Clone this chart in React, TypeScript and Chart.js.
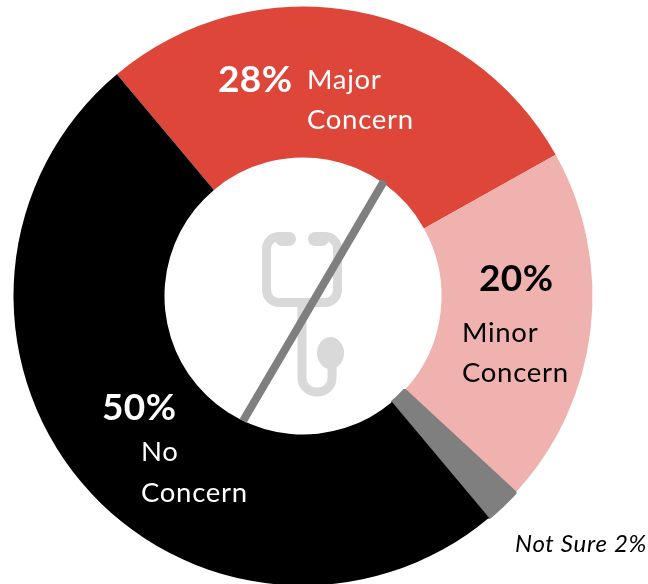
import React, { useEffect, useRef } from "react";
import { Chart, registerables } from "chart.js";

Chart.register(...registerables);

const categories = ["Major Concern", "Minor Concern", "Not Sure", "No Concern"];
const shares = [28, 20, 2, 50];
const sliceColors = ["#dd4639", "#f0b2ae", "#7f7f7f", "#000000"];
const sliceBorders = [0, 0, 3, 0];

type Lbl = { text: string; x: number; y: number; font: string; color: string; spacing: string };
const FACE = "Lato, 'Open Sans', sans-serif";
const labels: Lbl[] = [
  { text: "28%", x: 218, y: 92, font: `bold 37px ${FACE}`, color: "#ffffff", spacing: "0.4px" },
  { text: "Major", x: 307, y: 89, font: `27.5px ${FACE}`, color: "#ffffff", spacing: "0.7px" },
  { text: "Concern", x: 307, y: 129, font: `27.5px ${FACE}`, color: "#ffffff", spacing: "0.7px" },
  { text: "20%", x: 479, y: 291, font: `bold 37px ${FACE}`, color: "#000000", spacing: "0.4px" },
  { text: "Minor", x: 462, y: 342, font: `27.5px ${FACE}`, color: "#000000", spacing: "0.7px" },
  { text: "Concern", x: 462, y: 382, font: `27.5px ${FACE}`, color: "#000000", spacing: "0.7px" },
  { text: "50%", x: 102, y: 420, font: `bold 37px ${FACE}`, color: "#ffffff", spacing: "0.4px" },
  { text: "No", x: 141, y: 461, font: `27.5px ${FACE}`, color: "#ffffff", spacing: "0.7px" },
  { text: "Concern", x: 141, y: 502, font: `27.5px ${FACE}`, color: "#ffffff", spacing: "0.7px" },
  { text: "Not Sure 2%", x: 515, y: 552, font: `italic 24px ${FACE}`, color: "#000000", spacing: "0.7px" },
];

const decorations = {
  id: "decorations",
  afterDatasetsDraw(chart: any) {
    const c = chart.ctx as CanvasRenderingContext2D;
    c.save();
    // stethoscope icon
    c.strokeStyle = "#d9d9d9";
    c.fillStyle = "#d9d9d9";
    c.lineCap = "butt";
    c.lineJoin = "round";
    c.lineWidth = 9;
    c.beginPath();
    c.moveTo(285, 236.5);
    c.lineTo(279, 236.5);
    c.arcTo(266.5, 236.5, 266.5, 249, 12.5);
    c.lineTo(266.5, 290);
    c.arcTo(266.5, 302.5, 279, 302.5, 12.5);
    c.lineTo(325, 302.5);
    c.arcTo(337.5, 302.5, 337.5, 290, 12.5);
    c.lineTo(337.5, 249);
    c.arcTo(337.5, 236.5, 325, 236.5, 12.5);
    c.lineTo(319, 236.5);
    c.stroke();
    c.beginPath();
    c.moveTo(302, 302);
    c.lineTo(302, 376);
    c.arcTo(302, 392, 318, 392, 14);
    c.arcTo(332, 392, 332, 376, 14);
    c.lineTo(332, 360);
    c.stroke();
    c.lineCap = "round";
    c.lineWidth = 14;
    c.beginPath();
    c.moveTo(282, 239);
    c.lineTo(289, 239);
    c.moveTo(315, 239);
    c.lineTo(322, 239);
    c.stroke();
    c.beginPath();
    c.ellipse(330.5, 353, 13.5, 16, 0, 0, Math.PI * 2);
    c.fill();
    // diagonal strike
    c.strokeStyle = "#7f7f7f";
    c.lineCap = "butt";
    c.lineWidth = 8;
    c.beginPath();
    c.moveTo(384, 181);
    c.lineTo(243, 421);
    c.stroke();
    // text
    c.textBaseline = "alphabetic";
    c.textAlign = "left";
    for (const l of labels) {
      c.font = l.font;
      (c as any).letterSpacing = l.spacing;
      c.fillStyle = l.color;
      c.fillText(l.text, l.x, l.y);
    }
    c.restore();
  },
};

export default function App() {
  const ref = useRef<HTMLCanvasElement>(null);
  useEffect(() => {
    const chart = new Chart(ref.current!, {
      type: "doughnut",
      data: {
        labels: categories,
        datasets: [{ data: shares, backgroundColor: sliceColors, borderColor: sliceColors, borderWidth: sliceBorders, borderAlign: "center" }],
      },
      options: {
        responsive: false,
        animation: false,
        rotation: -40,
        cutout: "47.85%",
        layout: { padding: { left: 12, right: 54, top: 5, bottom: 5 } },
        plugins: { legend: { display: false }, tooltip: { enabled: false } },
      },
      plugins: [decorations],
    });
    return () => chart.destroy();
  }, []);
  return (
    <div style={{ position: "absolute", left: 0, top: 0, width: 648, height: 584, overflow: "hidden", background: "#fff" }}>
      <canvas ref={ref} width={648} height={592} style={{ display: "block" }} />
    </div>
  );
}
